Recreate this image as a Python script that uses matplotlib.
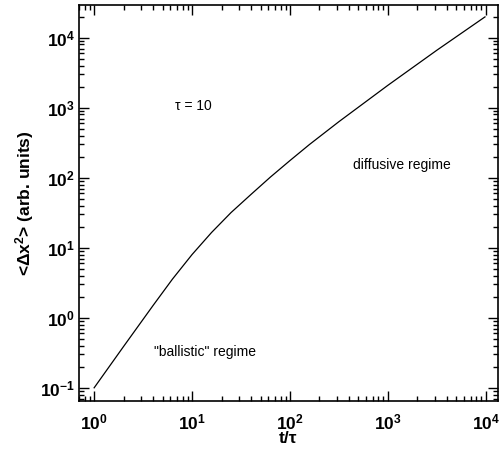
import math
import matplotlib
matplotlib.use("Agg")
import matplotlib.pyplot as plt
from matplotlib.ticker import LogLocator, FuncFormatter, NullFormatter

plt.rcParams['font.family'] = ['Liberation Sans', 'DejaVu Sans']
plt.rcParams['mathtext.fontset'] = 'custom'
plt.rcParams['mathtext.rm'] = 'Liberation Sans:bold'
plt.rcParams['mathtext.bf'] = 'Liberation Sans:bold'
plt.rcParams['mathtext.it'] = 'Liberation Sans:bold:italic'
plt.rcParams['mathtext.default'] = 'bf'

# Mean-square displacement versus scaled time
t_over_tau = [1, 2, 4, 6.3, 10, 15.8, 25, 40, 63, 100, 158, 316, 1000, 3160, 9800]
msd = [0.1, 0.39, 1.5, 3.56, 8.0, 16.5, 31.8, 57.8, 102, 176, 298, 632, 2090, 6620, 19800]

x_label = "t/τ"
y_label = r"<Δx$^{2}$> (arb. units)"
notes = [("τ = 10", 10.2, 1050), ("diffusive regime", 1390, 152),
         ('"ballistic" regime', 13.7, 0.327)]

fig = plt.figure(figsize=(5.03, 4.53), dpi=100)
ax = fig.add_axes([0.157, 0.115, 0.833, 0.874])

ax.plot(t_over_tau, msd, color='black', lw=0.9)
ax.set_xscale('log')
ax.set_yscale('log')
ax.set_xlim(0.70, 1.33e4)
ax.set_ylim(0.065, 2.93e4)

dec = FuncFormatter(lambda v, p: r"$\mathbf{10^{%d}}$" % round(math.log10(v)))
for axis in (ax.xaxis, ax.yaxis):
    axis.set_major_locator(LogLocator(base=10, numticks=20))
    axis.set_minor_locator(LogLocator(base=10, subs=range(2, 10), numticks=20))
    axis.set_major_formatter(dec)
    axis.set_minor_formatter(NullFormatter())

ax.tick_params(which='both', direction='in', top=True, right=True, width=1.0,
               labelsize=12.5)
ax.tick_params(which='major', length=7)
ax.tick_params(which='minor', length=3.5)
ax.tick_params(axis='x', which='major', pad=8)
ax.tick_params(axis='y', which='major', pad=3)
for s in ax.spines.values():
    s.set_linewidth(1.2)

ax.set_xlabel(x_label, fontsize=12.5, fontweight='bold', labelpad=-1)
ax.set_ylabel(y_label, fontsize=12.5, fontweight='bold', labelpad=3)

for txt, xv, yv in notes:
    ax.text(xv, yv, txt, fontsize=10, ha='center', va='center')

fig.savefig("out.png", dpi=100)
